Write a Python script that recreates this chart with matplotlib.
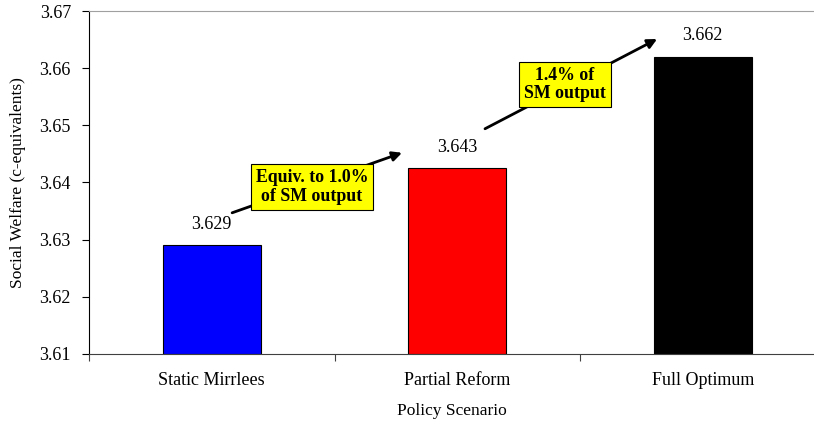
import matplotlib.pyplot as plt

plt.rcParams['font.family'] = ['Liberation Serif', 'DejaVu Serif']

scenarios = ['Static Mirrlees', 'Partial Reform', 'Full Optimum']
welfare = [3.629, 3.6425, 3.662]
value_labels = ['3.629', '3.643', '3.662']
bar_colors = ['#0000ff', '#ff0000', '#000000']
yticks = [3.61, 3.62, 3.63, 3.64, 3.65, 3.66, 3.67]

# callouts: text, box centre, arrow tail, arrow head (data coords)
callouts = [
    ('Equiv. to 1.0%\nof SM output', (0.408, 3.6392), (0.083, 3.6347), (0.775, 3.6452)),
    ('1.4% of\nSM output', (1.439, 3.6571), (1.113, 3.6494), (1.814, 3.6651)),
]

fig = plt.figure(figsize=(8.14, 4.25), dpi=100)
ax = fig.add_axes([89 / 814, 1 - 354 / 425, 1 - 89 / 814, 343 / 425])

x = range(len(scenarios))
ax.bar(x, [v - 3.61 for v in welfare], bottom=3.61, width=0.40,
       color=bar_colors, edgecolor='black', linewidth=0.8, zorder=2)

for xi, v, lab in zip(x, welfare, value_labels):
    ax.annotate(lab, (xi, v), xytext=(0, 9), textcoords='offset points',
                ha='center', va='bottom', fontsize=13)

for text, centre, tail, head in callouts:
    ax.annotate('', xy=head, xytext=tail,
                arrowprops=dict(arrowstyle='-|>', color='black', lw=2,
                                mutation_scale=14, shrinkA=0, shrinkB=0),
                zorder=3)
    ax.text(centre[0], centre[1], text, ha='center', va='center',
            fontsize=12.8, fontweight='bold', linespacing=1.1, zorder=4,
            bbox=dict(boxstyle='square,pad=0.28', facecolor='#ffff00',
                      edgecolor='black', linewidth=0.8))

ax.set_xlim(-0.5, 2.453)
ax.set_ylim(3.61, 3.67)
ax.set_yticks(yticks)
ax.set_yticklabels([f'{t:.2f}' for t in yticks], fontsize=13)
ax.set_xticks([-0.5, 0.5, 1.5])
ax.set_xticklabels([])
ax.set_xticks(list(x), minor=True)
ax.set_xticklabels(scenarios, minor=True, fontsize=13)
ax.tick_params(axis='x', which='minor', length=0, pad=13)
ax.tick_params(axis='x', which='major', length=5, direction='out',
               color='#404040')
ax.tick_params(axis='y', length=5, direction='out', pad=8)

ax.set_ylabel('Social Welfare (c-equivalents)', fontsize=12.5, labelpad=10)
ax.set_xlabel('Policy Scenario', fontsize=12.5, labelpad=10)

ax.spines['right'].set_visible(False)
ax.spines['top'].set_color('#a0a0a0')
ax.spines['bottom'].set_color('#404040')
ax.spines['left'].set_color('black')

fig.savefig('out.png', dpi=100)
